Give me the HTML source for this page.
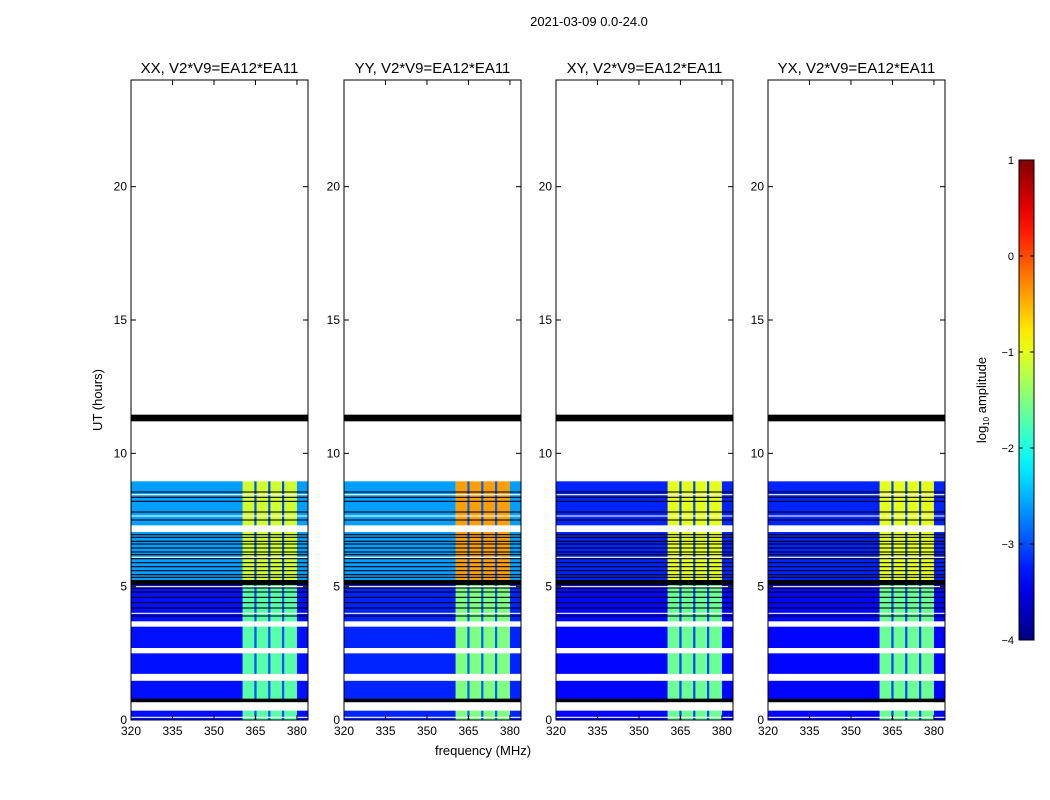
<!DOCTYPE html>
<html><head><meta charset="utf-8"><style>
body{margin:0;background:#fff;}
svg{display:block;font-family:"Liberation Sans","DejaVu Sans",sans-serif;}
</style></head><body>
<svg id="fig" width="1050" height="800" viewBox="0 0 1050 800" xmlns="http://www.w3.org/2000/svg">
<rect width="1050" height="800" fill="#fff"/>
<text x="589" y="26" font-size="13" text-anchor="middle">2021-03-09 0.0-24.0</text>
<text transform="translate(102,400) rotate(-90)" font-size="13" text-anchor="middle">UT (hours)</text>
<text x="483" y="755" font-size="13" text-anchor="middle">frequency (MHz)</text>
<g id="panels"></g>
<g id="cbar"></g>
</svg>
<script>
const panelNames = ["XX", "YY", "XY", "YX"];
const panelLeft = [131, 344, 556, 768];
const xTicks = [320, 335, 350, 365, 380];
const yTicks = [0, 5, 10, 15, 20];
// per-panel log10 amplitude levels
const lowerBg = [-3.3, -3.2, -3.35, -3.35];
const upperBg = [-2.6, -2.6, -3.2, -3.2];
const lowerBand = [-1.7, -1.5, -1.6, -1.6];
const upperBand = [-1.1, -0.4, -1.0, -1.0];
const stripeFreqs = [365, 370, 375];
const blackLines = [8.55, 8.35, 8.2, 7.8, 7.5, 7.2, 6.95, 6.85, 6.7, 6.6, 6.45, 6.3, 6.2, 6.05, 5.9, 5.75, 5.6, 5.45, 5.35, 4.95, 4.8, 4.6, 4.4, 4.2, 3.9];
const whiteLines = [8.45, 7.65, 6.1, 5.0, 4.0, 0.1];
const whiteGaps = [[7.05, 7.3], [3.5, 3.7], [2.5, 2.7], [1.47, 1.73], [0.35, 0.67]];
const blackGaps = [[5.06, 5.25], [0.67, 0.8], [11.2, 11.45]];
const cbarTicks = [1, 0, -1, -2, -3, -4];

const NS = "http://www.w3.org/2000/svg";
const W = 177, TOP = 80, BOT = 720;
const fMin = 320, fMax = 384, hMax = 24;
function jet(v){
  let t = Math.max(0, Math.min(1, (v + 4) / 5));
  const c = x => Math.round(255 * Math.max(0, Math.min(1, 1.5 - Math.abs(4 * t - x))));
  return `rgb(${c(3)},${c(2)},${c(1)})`;
}
function el(tag, attrs, parent){
  const e = document.createElementNS(NS, tag);
  for (const k in attrs) e.setAttribute(k, attrs[k]);
  parent.appendChild(e); return e;
}
const ys = h => BOT - h / hMax * (BOT - TOP);
const panels = document.getElementById("panels");
panelNames.forEach((nm, i) => {
  const x0 = panelLeft[i];
  const xs = f => x0 + (f - fMin) / (fMax - fMin) * W;
  const g = el("g", {}, panels);
  
  
  const rect = (f0, f1, h0, h1, fill, name) => {
    const r = el("rect", {x: xs(f0), y: ys(h1), width: xs(f1) - xs(f0), height: Math.max(1, ys(h0) - ys(h1)), fill: fill}, g);
    
    
  };
  const segs = [[0, 5.1, lowerBg[i], lowerBand[i]], [5.1, 8.95, upperBg[i], upperBand[i]]];
  segs.forEach(s => {
    rect(fMin, 360.4, s[0], s[1], jet(s[2]), 'background-region');
    rect(360.4, 380, s[0], s[1], jet(s[3]), 'bright-band');
    rect(380, fMax, s[0], s[1], jet(s[2]), 'background-region');
  });
  stripeFreqs.forEach(f => rect(f - 0.4, f + 0.4, 0, 8.95, jet(lowerBg[i] + 0.3), 'band-stripe'));
  blackLines.forEach(h => rect(fMin, fMax, h - 0.02, h + 0.02, "#000", 'flagged-line'));
  whiteLines.forEach(h => rect(fMin, fMax, h - 0.02, h + 0.02, "#fff", 'gap-line'));
  whiteGaps.forEach(gp => rect(fMin, fMax, gp[0], gp[1], "#fff", 'gap-band'));
  blackGaps.forEach(gp => rect(fMin, fMax, gp[0], gp[1], "#000", 'flagged-band'));
  const fr = el("rect", {x: x0, y: TOP, width: W, height: BOT - TOP, fill: "none", stroke: "#000", "stroke-width": 1}, g);
  
  
  const t = el("text", {x: x0 + W / 2, y: 73, "font-size": 15, "text-anchor": "middle"}, g);
  t.textContent = nm + ", V2*V9=EA12*EA11";
  
  
  xTicks.forEach(f => {
    el("line", {x1: xs(f), x2: xs(f), y1: BOT, y2: BOT - 5, stroke: "#000"}, g);
    el("line", {x1: xs(f), x2: xs(f), y1: TOP, y2: TOP + 5, stroke: "#000"}, g);
    const tl = el("text", {x: xs(f), y: BOT + 15, "font-size": 12, "text-anchor": "middle"}, g);
    tl.textContent = f;
    
    
  });
  yTicks.forEach(h => {
    el("line", {x1: x0, x2: x0 + 5, y1: ys(h), y2: ys(h), stroke: "#000"}, g);
    el("line", {x1: x0 + W, x2: x0 + W - 5, y1: ys(h), y2: ys(h), stroke: "#000"}, g);
    const tl = el("text", {x: x0 - 4, y: ys(h) + 4, "font-size": 12, "text-anchor": "end"}, g);
    tl.textContent = h;
    
    
  });
});
// colorbar
const cb = document.getElementById("cbar");


const CX = 1019, CW = 15, CT = 160, CB = 640;
const defs = el("defs", {}, cb);
const lg = el("linearGradient", {id: "jetg", x1: 0, y1: 1, x2: 0, y2: 0}, defs);
for (let k = 0; k <= 20; k++) el("stop", {offset: k / 20, "stop-color": jet(-4 + 5 * k / 20)}, lg);
el("rect", {x: CX, y: CT, width: CW, height: CB - CT, fill: "url(#jetg)", stroke: "#000"}, cb);
const cy = v => CB - (v + 4) / 5 * (CB - CT);
cbarTicks.forEach(v => {
  el("line", {x1: CX, x2: CX + 4, y1: cy(v), y2: cy(v), stroke: "#000"}, cb);
  el("line", {x1: CX + CW, x2: CX + CW - 4, y1: cy(v), y2: cy(v), stroke: "#000"}, cb);
  const tl = el("text", {x: CX - 5, y: cy(v) + 4, "font-size": 11, "text-anchor": "end"}, cb);
  tl.textContent = v < 0 ? "\u2212" + (-v) : v;
  
  
});
const ct = el("text", {transform: "translate(986,400) rotate(-90)", "font-size": 13, "text-anchor": "middle"}, cb);
ct.innerHTML = 'log<tspan font-size="8" dy="3">10</tspan><tspan dy="-3"> amplitude</tspan>';


</script>
</body></html>
